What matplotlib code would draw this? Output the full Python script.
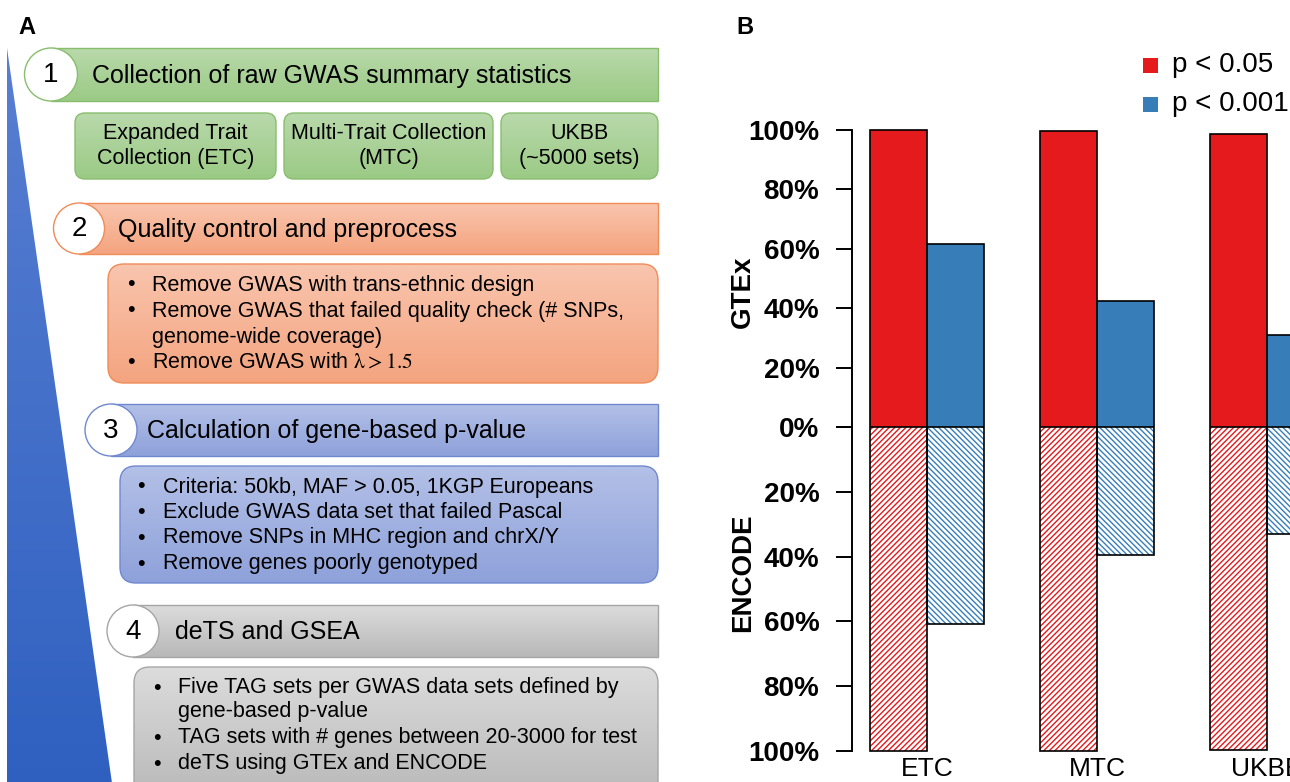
import numpy as np
import matplotlib
matplotlib.use('Agg')
import matplotlib.pyplot as plt
from matplotlib.patches import Rectangle, Circle, FancyBboxPatch, Polygon
from matplotlib.colors import to_rgb

plt.rcParams['font.family'] = ['Liberation Sans', 'DejaVu Sans']
plt.rcParams['hatch.linewidth'] = 1.0

# panel B data (% of data sets)
groups = ['ETC', 'MTC', 'UKBB']
gtex_p05 = [100.0, 99.7, 98.6]
gtex_p001 = [61.7, 42.3, 31.0]
encode_p05 = [100.0, 100.0, 99.6]
encode_p001 = [60.8, 39.4, 33.0]
legend_labels = ['p < 0.05', 'p < 0.001']

# panel A text
step_titles = ['Collection of raw GWAS summary statistics',
               'Quality control and preprocess',
               'Calculation of gene-based p-value',
               'deTS and GSEA']
collections = ['Expanded Trait\nCollection (ETC)',
               'Multi-Trait Collection\n(MTC)',
               'UKBB\n(~5000 sets)']
step_bullets = [
    None,
    [('•', 'Remove GWAS with trans-ethnic design'),
     ('•', 'Remove GWAS that failed quality check (# SNPs,'),
     ('', 'genome-wide coverage)'),
     ('•', r'Remove GWAS with $\mathrm{\lambda} > 1.5$')],
    [('•', 'Criteria: 50kb, MAF > 0.05, 1KGP Europeans'),
     ('•', 'Exclude GWAS data set that failed Pascal'),
     ('•', 'Remove SNPs in MHC region and chrX/Y'),
     ('•', 'Remove genes poorly genotyped')],
    [('•', 'Five TAG sets per GWAS data sets defined by'),
     ('', 'gene-based p-value'),
     ('•', 'TAG sets with # genes between 20-3000 for test'),
     ('•', 'deTS using GTEx and ENCODE')],
]

RED = '#e41a1c'
BLUE = '#377eb8'
W, H = 1290, 782

fig = plt.figure(figsize=(W / 100, H / 100), dpi=100)
ax0 = fig.add_axes([0, 0, 1, 1])
ax0.set_facecolor('none')
ax0.axis('off')


def vgrad(ax, extent, clip, top, bot, z):
    x0, x1, y0, y1 = extent
    t = np.linspace(0, 1, 100)[:, None, None]
    arr = (1 - t) * np.array(to_rgb(top)) + t * np.array(to_rgb(bot))
    arr = np.repeat(arr, 2, axis=1)
    im = ax.imshow(arr, extent=(x0, x1, y1, y0), origin='upper',
                   aspect='auto', zorder=z, interpolation='bilinear')
    im.set_clip_path(clip)


# blue wedge on the left
wedge = Polygon([(7, 48), (7, 790), (113, 790)], closed=True, fc='none', ec='none', zorder=1)
ax0.add_patch(wedge)
vgrad(ax0, (7, 113, 48, 790), wedge, '#587fd2', '#2f60c0', 0.5)

# step styling: (circle x, top, bottom, title x, top colour, bottom colour, edge)
steps = [
    (51, 48, 101, 92, '#b9d9ab', '#9bca85', '#88bd6e'),
    (79, 203, 254, 118, '#f9c5ae', '#f4a47f', '#ef8c58'),
    (111, 404, 456, 147, '#b3c0e7', '#8ea1da', '#7088d0'),
    (133, 605, 657, 175, '#dcdcdc', '#b8b8b8', '#a5a5a5'),
]
right = 658

for i, (cx, y0, y1, tx, ctop, cbot, edge) in enumerate(steps):
    cy = (y0 + y1) / 2
    bar = Rectangle((cx, y0), right - cx, y1 - y0, fc='none', ec=edge, lw=1, zorder=3)
    ax0.add_patch(bar)
    vgrad(ax0, (cx, right, y0, y1), bar, ctop, cbot, 2)
    ax0.add_patch(Circle((cx, cy), (y1 - y0) / 2, fc='white', ec=edge, lw=1, zorder=4))
    ax0.text(cx, cy + 1, str(i + 1), ha='center', va='center', fontsize=20, zorder=5)
    ax0.text(tx, cy + 1, step_titles[i], ha='left', va='center', fontsize=18, zorder=5)

# step 1 collection boxes
coll_x = [(75, 276), (284, 493), (501, 658)]
for (x0, x1), label in zip(coll_x, collections):
    box = FancyBboxPatch((x0, 113), x1 - x0, 66, boxstyle='round,pad=0,rounding_size=10',
                         fc='none', ec='#88bd6e', lw=1, zorder=3)
    ax0.add_patch(box)
    vgrad(ax0, (x0, x1, 113, 179), box, '#b9d9ab', '#9bca85', 2)
    ax0.text((x0 + x1) / 2, 146, label, ha='center', va='center', fontsize=15.5,
             linespacing=1.3, zorder=5)

# bullet boxes: (left, top, bottom, bullet x, text x, line ys)
boxes = [
    None,
    (108, 264, 383, 131, 152, [285, 311, 337, 363]),
    (120, 466, 583, 141, 163, [487, 512, 538, 564]),
    (134, 667, 800, 157, 178, [688, 712, 738, 764]),
]
for i in range(1, 4):
    x0, y0, y1, bx, tx, ys = boxes[i]
    ctop, cbot, edge = steps[i][4], steps[i][5], steps[i][6]
    box = FancyBboxPatch((x0, y0), right - x0, y1 - y0, boxstyle='round,pad=0,rounding_size=16',
                         fc='none', ec=edge, lw=1, zorder=3)
    ax0.add_patch(box)
    vgrad(ax0, (x0, right, y0, y1), box, ctop, cbot, 2)
    for (bul, line), y in zip(step_bullets[i], ys):
        if bul:
            ax0.text(bx, y, bul, ha='center', va='center', fontsize=15.5, zorder=5)
        ax0.text(tx, y, line, ha='left', va='center', fontsize=15.5, zorder=5,
                 math_fontfamily='stix')

# panel labels and axis titles
ax0.text(18, 27, 'A', ha='left', va='center', fontsize=17, fontweight='bold')
ax0.text(736, 27, 'B', ha='left', va='center', fontsize=17, fontweight='bold')
ax0.text(743, 292, 'GTEx', ha='center', va='center', rotation=90, fontsize=20, fontweight='bold')
ax0.text(743, 573, 'ENCODE', ha='center', va='center', rotation=90, fontsize=20, fontweight='bold')

# legend
for (lab, col, y) in zip(legend_labels, [RED, BLUE], [65, 104]):
    ax0.add_patch(Rectangle((1143, y - 7.5), 15, 15, fc=col, ec='none'))
    ax0.text(1172, y, lab, ha='left', va='center', fontsize=20)

ax0.set_xlim(0, W)
ax0.set_ylim(H, 0)

# panel B axes
x_left, x_right = 852, 1290
top_zero, top_full = 427, 130
bot_full = 751
gpx = 170.0
xlim = ((x_left - 927) / gpx, (x_right - 927) / gpx)
ppu_t = (top_zero - top_full) / 100.0
ppu_b = (bot_full - top_zero) / 100.0
axT_top = top_full - ppu_t
axB_bot = bot_full + ppu_b

axT = fig.add_axes([x_left / W, (H - top_zero) / H, (x_right - x_left) / W, (top_zero - axT_top) / H])
axB = fig.add_axes([x_left / W, (H - axB_bot) / H, (x_right - x_left) / W, (axB_bot - top_zero) / H])

x = np.arange(len(groups))
w = 57 / gpx
axT.bar(x - w / 2, gtex_p05, w, color=RED, ec='black', lw=1.2)
axT.bar(x + w / 2, gtex_p001, w, color=BLUE, ec='black', lw=1.2)
axB.bar(x - w / 2, encode_p05, w, color='white', ec=RED, lw=0, hatch='//////')
axB.bar(x + w / 2, encode_p001, w, color='white', ec=BLUE, lw=0, hatch='\\' * 6)
axB.bar(x - w / 2, encode_p05, w, fill=False, ec='black', lw=1.2)
axB.bar(x + w / 2, encode_p001, w, fill=False, ec='black', lw=1.2)

axT.set_ylim(0, 101)
axB.set_ylim(101, 0)
ticks = list(range(0, 101, 20))
for ax in (axT, axB):
    ax.set_facecolor('none')
    ax.set_xlim(*xlim)
    for s in ('top', 'right', 'bottom'):
        ax.spines[s].set_visible(False)
    ax.spines['left'].set_bounds(0, 100)
    ax.spines['left'].set_linewidth(1.4)
    ax.set_yticks(ticks)
    ax.tick_params(axis='y', length=11.5, width=1.4, pad=12, labelsize=20)

axT.set_yticklabels([f'{t}%' for t in ticks], fontweight='bold')
axB.set_yticklabels([''] + [f'{t}%' for t in ticks[1:]], fontweight='bold')
axT.set_xticks([])
axB.set_xticks(x)
axB.set_xticklabels(groups, fontsize=19)
axB.tick_params(axis='x', length=0, pad=2)

fig.savefig('out.png', dpi=100)
